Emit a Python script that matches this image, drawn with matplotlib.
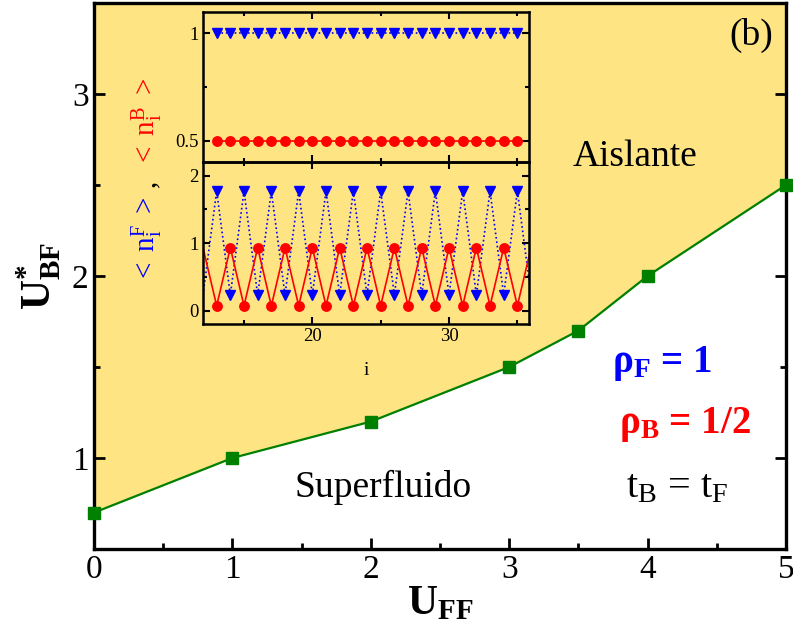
import matplotlib
matplotlib.use("Agg")
import matplotlib.pyplot as plt
from matplotlib.ticker import MultipleLocator

plt.rcParams['font.family'] = ['Liberation Serif', 'DejaVu Serif']
plt.rcParams['mathtext.fontset'] = 'custom'
plt.rcParams['mathtext.rm'] = 'Liberation Serif'
plt.rcParams['mathtext.it'] = 'Liberation Serif:italic'
plt.rcParams['mathtext.bf'] = 'Liberation Serif:bold'

# Phase boundary U*_BF(U_FF)
u_ff = [0, 1, 2, 3, 3.5, 4, 5]
u_bf = [0.7, 1.0, 1.2, 1.5, 1.7, 2.0, 2.5]

# Site-resolved densities (inset)
sites_top = [13, 14, 15, 16, 17, 18, 19, 20, 21, 22, 23, 24, 25, 26, 27,
             28, 29, 30, 31, 32, 33, 34, 35]
nF_top = [1.0] * 23
nB_top = [0.5] * 23

sites_bot = [12, 13, 14, 15, 16, 17, 18, 19, 20, 21, 22, 23, 24, 25, 26,
             27, 28, 29, 30, 31, 32, 33, 34, 35, 36]
nF_bot = [0.23, 1.77, 0.23, 1.77, 0.23, 1.77, 0.23, 1.77, 0.23, 1.77, 0.23,
          1.77, 0.23, 1.77, 0.23, 1.77, 0.23, 1.77, 0.23, 1.77, 0.23, 1.77,
          0.23, 1.77, 0.23]
nB_bot = [0.93, 0.07, 0.93, 0.07, 0.93, 0.07, 0.93, 0.07, 0.93, 0.07, 0.93,
          0.07, 0.93, 0.07, 0.93, 0.07, 0.93, 0.07, 0.93, 0.07, 0.93, 0.07,
          0.93, 0.07, 0.93]

YELLOW = '#FFE484'
GREEN = '#008000'

fig = plt.figure(figsize=(7.93, 6.33), dpi=100)
ax = fig.add_axes([94 / 793, 1 - 549 / 633, 692 / 793, 546 / 633])

ax.fill_between(u_ff, u_bf, 3.5, color=YELLOW, lw=0, zorder=0)
ax.plot(u_ff, u_bf, '-', color=GREEN, lw=1.6, marker='s', ms=8.5,
        mec=GREEN, mfc=GREEN, clip_on=False, zorder=3)

ax.set_xlim(0, 5)
ax.set_ylim(0.5, 3.5)
ax.xaxis.set_major_locator(MultipleLocator(1))
ax.xaxis.set_minor_locator(MultipleLocator(0.5))
ax.yaxis.set_major_locator(MultipleLocator(1))
ax.yaxis.set_minor_locator(MultipleLocator(0.5))
ax.tick_params(which='both', direction='in', top=False, right=True,
               width=2, labelsize=24)
ax.tick_params(which='major', length=8)
ax.tick_params(which='minor', length=4)
ax.tick_params(axis='y', pad=4)
ax.tick_params(axis='x', pad=4)
for s in ax.spines.values():
    s.set_linewidth(2.4)

ax.set_xlabel(r'$\mathbf{U_{FF}}$', fontsize=30, labelpad=0)
ax.set_ylabel(r'$\mathbf{U^{*}_{BF}}$', fontsize=30, labelpad=6)

ax.text(4.906, 3.42, '(b)', ha='right', va='top', fontsize=27)
ax.text(3.91, 2.603, 'Aislante', ha='center', va='baseline', fontsize=27)
ax.text(2.09, 0.785, 'Superfluido', ha='center', va='baseline', fontsize=27)
ax.text(4.10, 1.474, r'ρ$_\mathregular{F}$ = 1', color='blue',
        ha='center', va='baseline', fontsize=28, fontweight='bold')
ax.text(4.27, 1.138, r'ρ$_\mathregular{B}$ = 1/2', color='red',
        ha='center', va='baseline', fontsize=28, fontweight='bold')
ax.text(4.21, 0.785, r't$_\mathregular{B}$ = t$_\mathregular{F}$',
        color='black', ha='center', va='baseline', fontsize=29)

# Inset: two stacked panels
x0, w = 203 / 793, 326 / 793
axt = fig.add_axes([x0, 1 - 162 / 633, w, 150 / 633])
axb = fig.add_axes([x0, 1 - 324 / 633, w, 162 / 633])
for a in (axt, axb):
    a.set_facecolor('none')
    a.set_xlim(12, 35.85)
    a.xaxis.set_major_locator(MultipleLocator(10))
    a.xaxis.set_minor_locator(MultipleLocator(5))
    a.tick_params(which='both', direction='in', top=True, right=True,
                  width=1.5, labelsize=13.5, pad=3)
    a.tick_params(which='major', length=5)
    a.tick_params(which='minor', length=3)
    for s in a.spines.values():
        s.set_linewidth(1.8)

axt.plot(sites_top, nF_top, ':', color='blue', lw=1.2, marker='v', ms=6.8)
axt.plot(sites_top, nB_top, '-', color='red', lw=1.2, marker='o', ms=6.8)
axt.set_ylim(0.4, 1.1)
axt.yaxis.set_major_locator(MultipleLocator(0.5))
axt.yaxis.set_minor_locator(MultipleLocator(0.25))
axt.set_yticks([0.5, 1.0], ['0.5', '1'])
axt.tick_params(labelbottom=False)

axb.plot(sites_bot, nF_bot, ':', color='blue', lw=1.2, marker='v', ms=6.8,
         markevery=slice(1, -1))
axb.plot(sites_bot, nB_bot, '-', color='red', lw=1.2, marker='o', ms=6.8,
         markevery=slice(1, -1))
axb.set_ylim(-0.2, 2.2)
axb.yaxis.set_major_locator(MultipleLocator(1))
axb.yaxis.set_minor_locator(MultipleLocator(0.5))
axb.set_xlabel('i', fontsize=14, labelpad=12)

# Coloured inset y label
lab_x = 147 / 793
fig.text(lab_x, 1 - 240 / 633, r'$\mathregular{<\ n_i^F\ >}$', color='blue',
         rotation=90, ha='center', va='center', fontsize=21)
fig.text(lab_x, 1 - 183 / 633, ',', color='black',
         rotation=90, ha='center', va='center', fontsize=21)
fig.text(lab_x, 1 - 122 / 633, r'$\mathregular{<\ n_i^B\ >}$', color='red',
         rotation=90, ha='center', va='center', fontsize=21)

fig.savefig('out.png', dpi=100)
